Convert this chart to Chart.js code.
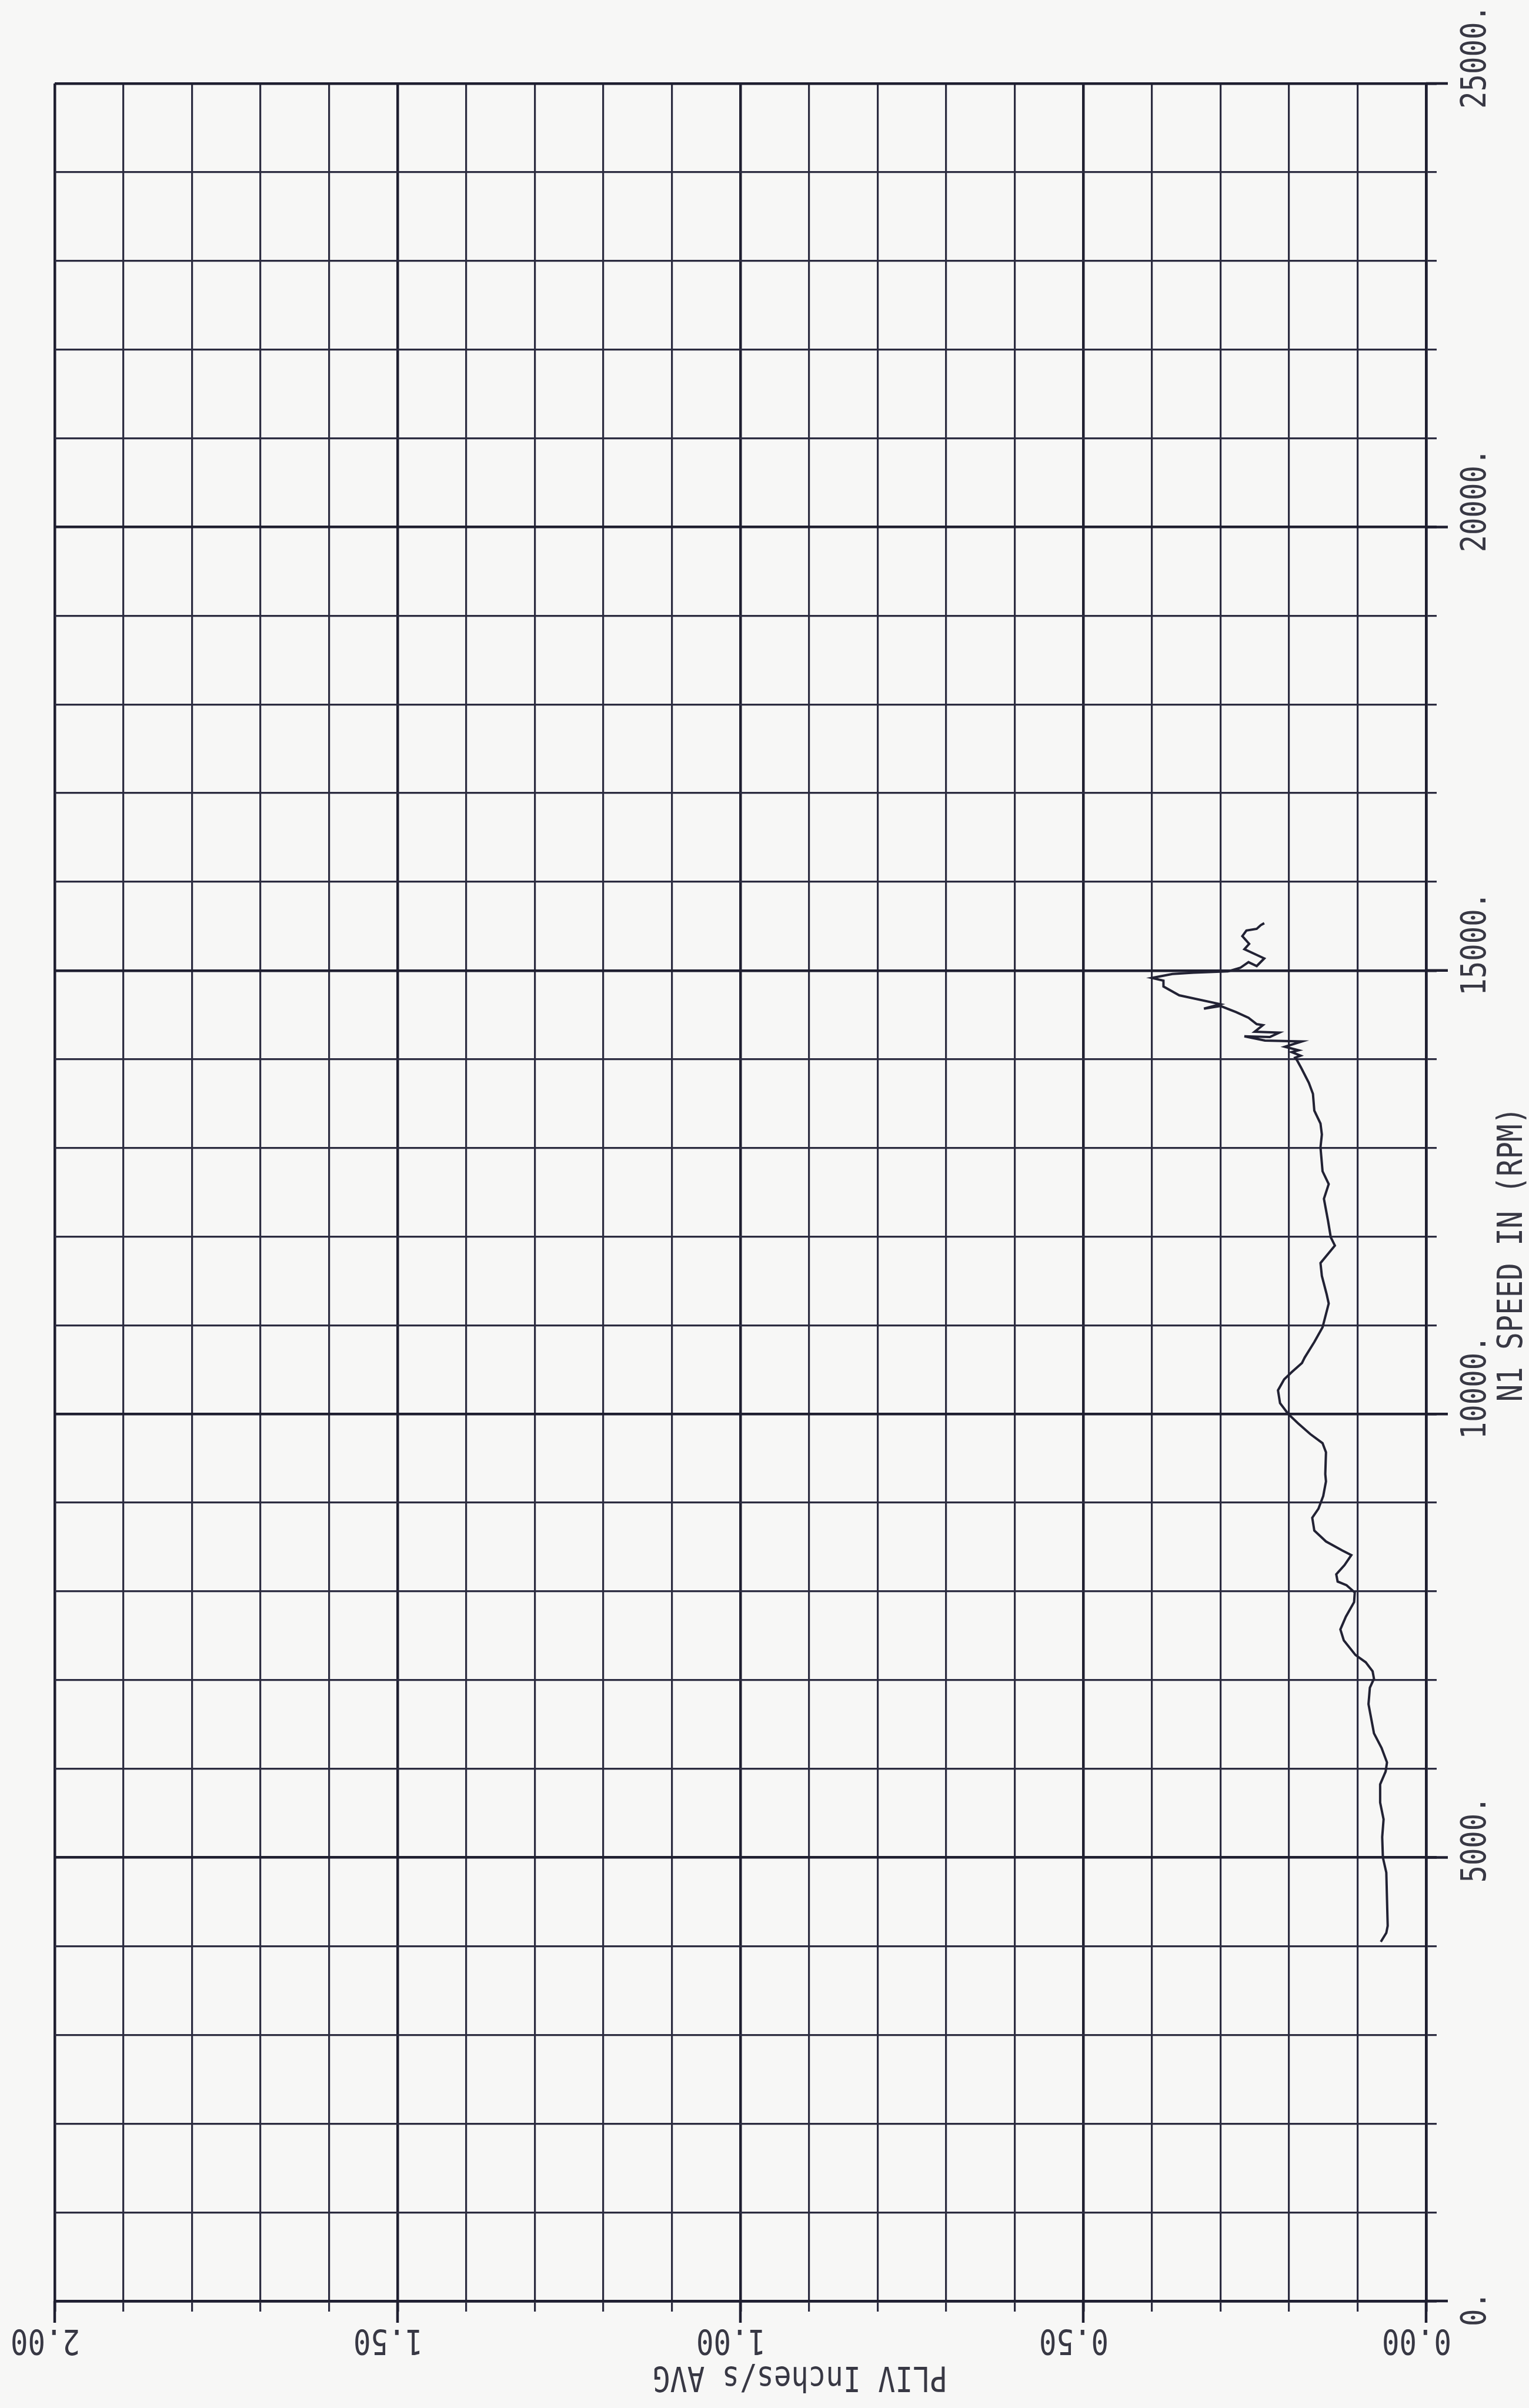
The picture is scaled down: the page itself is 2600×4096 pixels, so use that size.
<!DOCTYPE html>
<html lang="en">
<head>
    <meta charset="UTF-8">
    <title>PLIV vs N1 speed</title>
    <script src="https://cdn.jsdelivr.net/npm/chart.js"></script>
    <style>
        body { margin: 0; background: #f7f7f6; }
        canvas { display: block; }
    </style>
</head>
<body>
    <canvas id="myChart" width="2600" height="4096"></canvas>
    <script>
        // N1 speed (rpm) and PLIV (inches/s avg), in trace order
        const n1Speed = [4050, 4150, 4230, 4530, 4830, 5000, 5230, 5430, 5620, 5825, 5969, 6072, 6236, 6400,
            6729, 6914, 7016, 7099, 7201, 7283, 7448, 7571, 7715, 7879, 7988, 8070, 8111, 8193, 8296, 8409,
            8460, 8563, 8686, 8830, 8932, 9076, 9240, 9322, 9569, 9671, 9774, 9897, 10000, 10123, 10267,
            10390, 10472, 10575, 10637, 10811, 10977, 11246, 11350, 11557, 11702, 11899, 11992, 12178, 12427,
            12592, 12737, 13006, 13151, 13275, 13420, 13609, 13734, 13900, 13985,
            14017, 14040, 14080, 14100, 14140, 14200, 14210, 14258, 14250, 14300, 14310, 14384, 14395,
            14467, 14530, 14600, 14570, 14620, 14720, 14820, 14885, 14916, 14960, 14975, 14990, 15030, 15094,
            15050, 15136, 15240, 15300, 15387, 15450, 15470, 15512, 15533];
        const plivAvg = [0.066, 0.058, 0.056, 0.057, 0.058, 0.063, 0.064, 0.062, 0.067, 0.067, 0.059, 0.057, 0.065, 0.076,
            0.084, 0.082, 0.076, 0.078, 0.088, 0.103, 0.120, 0.125, 0.117, 0.105, 0.104, 0.116, 0.129, 0.131, 0.119, 0.109,
            0.122, 0.146, 0.163, 0.166, 0.157, 0.150, 0.146, 0.147, 0.146, 0.151, 0.169, 0.187, 0.201, 0.213, 0.216,
            0.207, 0.196, 0.181, 0.177, 0.163, 0.151, 0.142, 0.145, 0.152, 0.154, 0.133, 0.139, 0.143, 0.149,
            0.142, 0.151, 0.154, 0.152, 0.154, 0.163, 0.165, 0.171, 0.182, 0.188,
            0.191, 0.183, 0.196, 0.186, 0.206, 0.181, 0.235, 0.265, 0.228, 0.214, 0.250, 0.238, 0.247,
            0.259, 0.277, 0.300, 0.324, 0.300, 0.360, 0.383, 0.383, 0.400, 0.370, 0.339, 0.289, 0.271, 0.259,
            0.247, 0.236, 0.265, 0.258, 0.268, 0.262, 0.247, 0.241, 0.236];

        const plivTicks = [0, 0.5, 1, 1.5, 2];
        const plivLabels = ['0.00', '0.50', '1.00', '1.50', '2.00'];
        const n1Ticks = [0, 5000, 10000, 15000, 20000, 25000];
        const n1Labels = ['0.', '5000.', '10000.', '15000.', '20000.', '25000.'];
        const plivTitle = 'PLIV Inches/s AVG';
        const n1Title = 'N1 SPEED IN (RPM)';

        const S = 0.921;
        const majorColor = '#1f1f30';
        const minorColor = '#2c2c40';
        const textColor = '#383844';

        function isMajorPliv(v) { return Math.round(v * 10) % 5 === 0; }
        function isMajorN1(v) { return Math.round(v) % 5000 === 0; }

        // plotter style text: narrow mono, rotated
        function plotText(ctx, text, x, y, angle, align) {
            ctx.save();
            ctx.translate(x, y);
            ctx.rotate(angle);
            ctx.scale(0.83, 1);
            ctx.font = '59px "DejaVu Sans Mono"';
            ctx.fillStyle = textColor;
            ctx.textAlign = align;
            ctx.textBaseline = 'alphabetic';
            ctx.fillText(text, 0, 0);
            ctx.restore();
        }

        const axisText = {
            id: 'axisText',
            afterDraw(chart) {
                const ctx = chart.ctx;
                const xs = chart.scales.x;
                const ys = chart.scales.y;
                const area = chart.chartArea;

                // longer tick marks at the major lines
                ctx.save();
                ctx.strokeStyle = majorColor;
                ctx.lineWidth = 4.5;
                plivTicks.forEach(v => {
                    const px = xs.getPixelForValue(v);
                    ctx.beginPath();
                    ctx.moveTo(px, area.bottom);
                    ctx.lineTo(px, area.bottom + 37);
                    ctx.stroke();
                });
                n1Ticks.forEach(v => {
                    const py = ys.getPixelForValue(v);
                    ctx.beginPath();
                    ctx.moveTo(area.right, py);
                    ctx.lineTo(area.right + 37, py);
                    ctx.stroke();
                });
                ctx.restore();

                // PLIV labels, upside down under the plot
                plivTicks.forEach((v, i) => {
                    const px = xs.getPixelForValue(v);
                    plotText(ctx, plivLabels[i], px + 43, area.bottom + 49, Math.PI, 'left');
                });
                plotText(ctx, plivTitle, 1477 * S, area.bottom + 112, Math.PI, 'center');

                // N1 labels, reading upward on the right
                n1Ticks.forEach((v, i) => {
                    const py = ys.getPixelForValue(v);
                    plotText(ctx, n1Labels[i], area.right + 101, py + 43, -Math.PI / 2, 'left');
                });
                plotText(ctx, n1Title, area.right + 163, ys.getPixelForValue(11800), -Math.PI / 2, 'center');
            }
        };

        const ctx = document.getElementById('myChart');
        new Chart(ctx, {
            type: 'scatter',
            data: {
                datasets: [{
                    label: 'PLIV',
                    data: n1Speed.map((r, i) => ({ x: plivAvg[i], y: r })),
                    showLine: true,
                    borderColor: '#222234',
                    borderWidth: 4,
                    pointRadius: 0,
                    tension: 0
                }]
            },
            options: {
                responsive: false,
                animation: false,
                layout: { padding: { left: 93, top: 142, right: 75, bottom: 82 } },
                plugins: { legend: { display: false }, tooltip: { enabled: false } },
                scales: {
                    x: {
                        type: 'linear',
                        position: 'bottom',
                        reverse: true,
                        min: 0,
                        max: 2,
                        ticks: { stepSize: 0.1, display: false },
                        grid: {
                            color: c => isMajorPliv(c.tick.value) ? majorColor : minorColor,
                            lineWidth: c => isMajorPliv(c.tick.value) ? 4.5 : 3.2,
                            tickLength: 18
                        },
                        border: { color: majorColor, width: 4.5 },
                        afterFit: s => { s.height = 100; }
                    },
                    y: {
                        type: 'linear',
                        position: 'right',
                        min: 0,
                        max: 25000,
                        ticks: { stepSize: 1000, display: false },
                        grid: {
                            color: c => isMajorN1(c.tick.value) ? majorColor : minorColor,
                            lineWidth: c => isMajorN1(c.tick.value) ? 4.5 : 3.2,
                            tickLength: 18
                        },
                        border: { color: majorColor, width: 4.5 },
                        afterFit: s => { s.width = 100; }
                    }
                }
            },
            plugins: [axisText]
        });
    </script>
</body>
</html>
